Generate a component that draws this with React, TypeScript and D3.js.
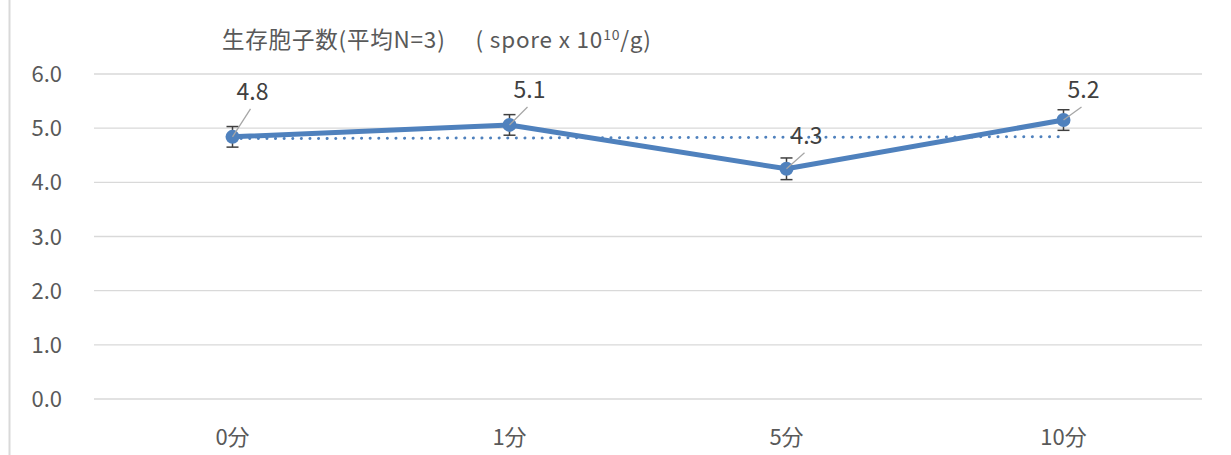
import React from "react";
import * as d3 from "d3";

const categories = ["0分", "1分", "5分", "10分"];
const values = [4.84, 5.06, 4.25, 5.15];
const errors = [0.19, 0.19, 0.2, 0.19];
const labels = ["4.8", "5.1", "4.3", "5.2"];
const yTicks = [0, 1, 2, 3, 4, 5, 6];

const W = 1231;
const H = 455;
const FONT = "'Noto Sans CJK JP', 'Open Sans', 'Noto Sans', sans-serif";
const TXT = "#595959";
const BLUE = "#4F81BD";

export default function App() {
  const x = d3.scaleBand<string>().domain(categories).range([94, 1202]);
  const y = d3.scaleLinear().domain([0, 6]).range([399, 74]);
  const cx = (c: string) => (x(c) as number) + x.bandwidth() / 2;

  const line = d3
    .line<number>()
    .x((_, i) => cx(categories[i]))
    .y((v) => y(v));

  // linear trendline
  const xs = values.map((_, i) => i + 1);
  const mx = d3.mean(xs) as number;
  const my = d3.mean(values) as number;
  const slope =
    d3.sum(xs.map((xi, i) => (xi - mx) * (values[i] - my))) /
    d3.sum(xs.map((xi) => (xi - mx) ** 2));
  const intercept = my - slope * mx;
  const t0 = intercept + slope * 1;
  const t1 = intercept + slope * 4;

  const labelOffsets = [
    { dx: 20, dy: -37 },
    { dx: 20, dy: -27 },
    { dx: 20, dy: -25 },
    { dx: 20, dy: -22 },
  ];

  return (
    <svg
      width={W}
      height={H}
      style={{ position: "absolute", left: 0, top: 0, background: "#fff" }}
      fontFamily={FONT}
    >
      <line x1={9.5} x2={9.5} y1={0} y2={H} stroke="#d9d9d9" strokeWidth={2} />
      <text x={222} y={48} fontSize={22.5} fill={TXT} letterSpacing={0.8}>
        生存胞子数(平均N=3)
        <tspan dx={30}>( spore x 10</tspan>
        <tspan fontSize={14} dy={-8}>10</tspan>
        <tspan dy={8}>/g)</tspan>
      </text>
      {yTicks.map((t) => (
        <g key={t}>
          <line x1={94} x2={1202} y1={y(t)} y2={y(t)} stroke="#d9d9d9" strokeWidth={1.3} />
          <text x={62} y={y(t) + 8} fontSize={22} fill={TXT} textAnchor="end">
            {t.toFixed(1)}
          </text>
        </g>
      ))}
      {categories.map((c) => (
        <text key={c} x={cx(c)} y={445} fontSize={22} fill={TXT} textAnchor="middle">
          {c}
        </text>
      ))}
      <line
        x1={cx(categories[0])}
        x2={cx(categories[3])}
        y1={y(t0)}
        y2={y(t1)}
        stroke={BLUE}
        strokeWidth={3}
        strokeDasharray="0.1 8.5"
        strokeLinecap="round"
      />
      <path d={line(values) as string} fill="none" stroke={BLUE} strokeWidth={5} strokeLinejoin="round" />
      {values.map((v, i) => {
        const px = cx(categories[i]);
        const top = y(v + errors[i]);
        const bot = y(v - errors[i]);
        return (
          <g key={i}>
            <line x1={px} x2={px} y1={top} y2={bot} stroke="#404040" strokeWidth={1.5} />
            <line x1={px - 6} x2={px + 6} y1={top} y2={top} stroke="#404040" strokeWidth={1.5} />
            <line x1={px - 6} x2={px + 6} y1={bot} y2={bot} stroke="#404040" strokeWidth={1.5} />
            <circle cx={px} cy={y(v)} r={7} fill={BLUE} />
          </g>
        );
      })}
      {values.map((v, i) => {
        const px = cx(categories[i]);
        const py = y(v);
        const o = labelOffsets[i];
        return (
          <g key={"l" + i}>
            <line
              x1={px}
              y1={py}
              x2={px + o.dx - 2}
              y2={py + o.dy + 9}
              stroke="#a6a6a6"
              strokeWidth={1.3}
            />
            <text x={px + o.dx} y={py + o.dy} fontSize={23} fill="#404040" textAnchor="middle">
              {labels[i]}
            </text>
          </g>
        );
      })}
    </svg>
  );
}
